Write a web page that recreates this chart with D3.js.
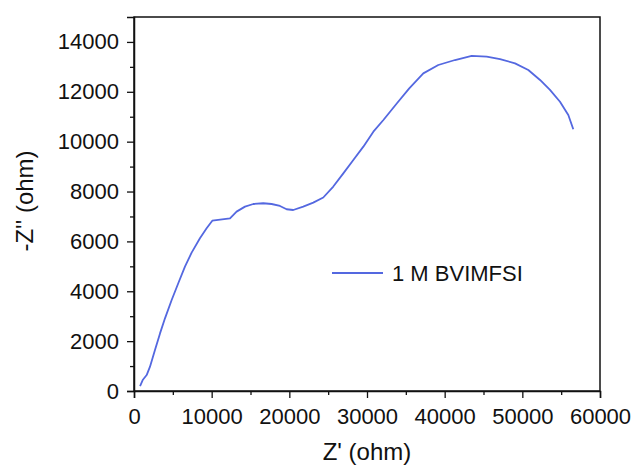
<!DOCTYPE html>
<html>
<head>
<meta charset="utf-8">
<script src="https://cdn.jsdelivr.net/npm/d3@7"></script>
<style>
    body { margin: 0; background: #fff; }
    text { font-family: "Liberation Sans", Arial, sans-serif; fill: #111; }
</style>
</head>
<body>
<div id="chart"></div>
<script>
// Nyquist data
const zReal = [780, 1120, 1630, 2060, 2700, 3350, 3990, 4850, 5700, 6560, 7420, 8490, 9350, 10080,
    12360, 13210, 14290, 15360, 16640, 17720, 18790, 19650, 20500, 21790, 23080, 24370, 25660,
    26950, 28240, 29530, 30820, 32110, 33830, 35440, 37250, 39180, 41330, 43480, 45410, 47130,
    49060, 50770, 52280, 53560, 54850, 55920, 56560];
const zImag = [200, 440, 640, 975, 1645, 2310, 2915, 3650, 4320, 4985, 5550, 6125, 6525, 6830,
    6925, 7195, 7395, 7500, 7530, 7500, 7420, 7290, 7260, 7395, 7555, 7760, 8200,
    8730, 9265, 9800, 10400, 10870, 11530, 12140, 12740, 13075, 13275, 13440, 13410, 13315,
    13140, 12875, 12475, 12075, 11600, 11070, 10495];
const seriesName = "1 M BVIMFSI";
const xTicks = [0, 10000, 20000, 30000, 40000, 50000, 60000];
const yTicks = [0, 2000, 4000, 6000, 8000, 10000, 12000, 14000];
const xMinor = [5000, 15000, 25000, 35000, 45000, 55000];
const yMinor = [1000, 3000, 5000, 7000, 9000, 11000, 13000];

const size = {width: 637, height: 469};
const margin = {top: 17, right: 37, bottom: 78, left: 134};
const width = size.width - margin.left - margin.right;
const height = size.height - margin.top - margin.bottom;
const lineColor = "#5468e0";

const svg = d3.select("#chart").append("svg")
    .attr("width", size.width)
    .attr("height", size.height);
const g = svg.append("g")
    .attr("transform", "translate(" + margin.left + "," + margin.top + ")");

const xScale = d3.scaleLinear().domain([0, 60000]).range([0, width]);
const yScale = d3.scaleLinear().domain([0, 15000]).range([height, 0]);

// frame
g.append("rect")
    .attr("width", width).attr("height", height)
    .attr("fill", "none").attr("stroke", "#111").attr("stroke-width", 1.5);

// minor ticks
g.append("g").attr("transform", "translate(0," + height + ")")
    .call(d3.axisBottom(xScale).tickValues(xMinor).tickSize(4).tickFormat(""))
    .call(a => a.select(".domain").remove());
g.append("g")
    .call(d3.axisLeft(yScale).tickValues(yMinor).tickSize(4).tickFormat(""))
    .call(a => a.select(".domain").remove());

// major axes
g.append("g").attr("transform", "translate(0," + height + ")")
    .call(d3.axisBottom(xScale).tickValues(xTicks).tickSize(7).tickPadding(10).tickFormat(d3.format("d")));
g.append("g")
    .call(d3.axisLeft(yScale).tickValues(yTicks).tickSize(7).tickPadding(8).tickFormat(d3.format("d")));

g.selectAll(".tick line").attr("stroke", "#111").attr("stroke-width", 1.3);
g.selectAll(".domain").attr("stroke", "#111").attr("stroke-width", 1.5);
g.selectAll(".tick text").style("font-size", "22px").style("font-family", "'Liberation Sans', Arial, sans-serif").attr("fill", "#111");

// curve
const pts = zReal.map((x, i) => [x, zImag[i]]);
g.append("path")
    .datum(pts)
    .attr("fill", "none")
    .attr("stroke", lineColor)
    .attr("stroke-width", 1.8)
    .attr("stroke-linejoin", "round")
    .attr("d", d3.line().x(d => xScale(d[0])).y(d => yScale(d[1])));

// axis titles
svg.append("text")
    .attr("x", margin.left + width / 2).attr("y", 460)
    .attr("text-anchor", "middle").style("font-size", "24px")
    .text("Z' (ohm)");
svg.append("text")
    .attr("transform", "translate(33," + (margin.top + height / 2 - 3) + ") rotate(-90)")
    .attr("text-anchor", "middle").style("font-size", "24px")
    .text("-Z'' (ohm)");

// legend
const legend = svg.append("g").attr("transform", "translate(332,273)");
legend.append("line")
    .attr("x1", 0).attr("x2", 51)
    .attr("stroke", lineColor).attr("stroke-width", 1.8);
legend.append("text")
    .attr("x", 60).attr("y", 8)
    .style("font-size", "22px")
    .text(seriesName);
</script>
</body>
</html>
